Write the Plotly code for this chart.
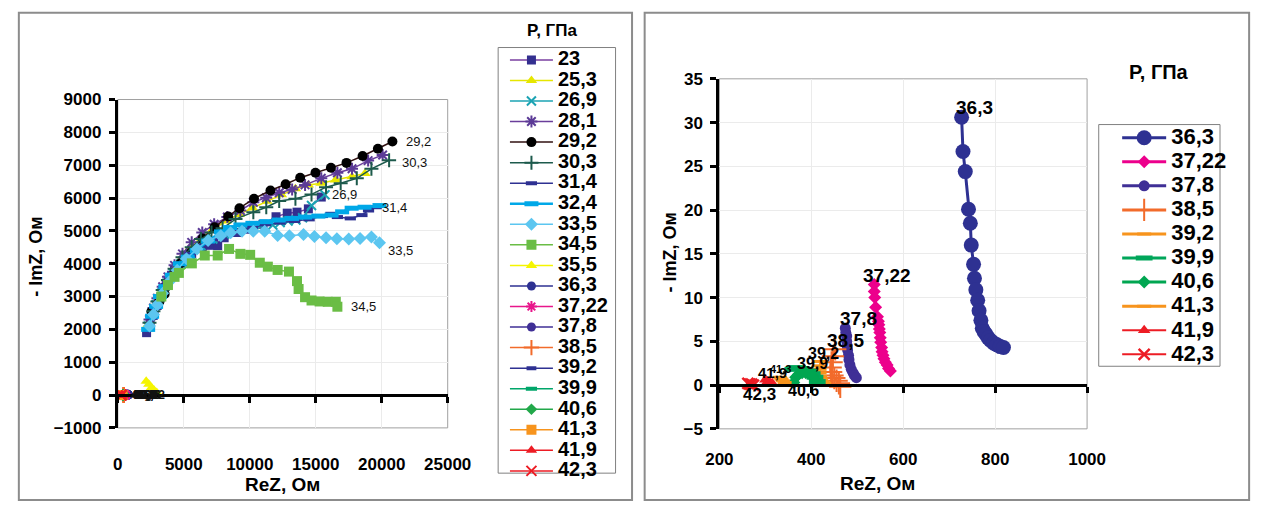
import plotly.graph_objects as go

W, H = 1277, 513
FONT = "Arial, 'Liberation Sans', sans-serif"

# ---------------- data: left chart (ReZ, Ом ; -ImZ, Ом) ----------------
p23_x = [2180, 2450, 2750, 3050, 3400, 3800, 4300, 4900, 5600, 6400, 7000, 7570, 8060, 9000, 10000, 11000, 11990, 12840, 13580, 14440, 15420]
p23_y = [1900, 2250, 2600, 2900, 3200, 3500, 3800, 4050, 4300, 4480, 4560, 4550, 4790, 4950, 5050, 5200, 5430, 5540, 5570, 5670, 6030]
p25_3_x = [2300, 2600, 2900, 3300, 3700, 4200, 4800, 5500, 6300, 7200, 8200, 9200, 10200, 11300, 12400, 13460, 14440, 15420, 16500, 17750, 18730]
p25_3_y = [2150, 2500, 2800, 3150, 3450, 3800, 4150, 4500, 4800, 5050, 5300, 5500, 5700, 5900, 6100, 6280, 6400, 6450, 6550, 6650, 6750]
p26_9_x = [2300, 2600, 2900, 3300, 3700, 4200, 4800, 5500, 6300, 7200, 8100, 9000, 9900, 10800, 11740, 12300, 12900, 13500, 14000, 14680, 15700]
p26_9_y = [2100, 2450, 2750, 3100, 3400, 3700, 4000, 4300, 4550, 4750, 4900, 5000, 5080, 5150, 5180, 5250, 5300, 5330, 5400, 5770, 6100]
p28_1_x = [2400, 2700, 3000, 3400, 3800, 4300, 4900, 5600, 6400, 7300, 8300, 9290, 10270, 11250, 12230, 13210, 14190, 15420, 16640, 17750, 18970, 20070]
p28_1_y = [2300, 2650, 2950, 3300, 3600, 3950, 4300, 4650, 4950, 5200, 5420, 5620, 5870, 6010, 6160, 6260, 6400, 6600, 6770, 6890, 7140, 7310]
p29_2_x = [2550, 3150, 3550, 4140, 4750, 5560, 6420, 7330, 8360, 9220, 10320, 11570, 12720, 13820, 14980, 16150, 17330, 18550, 19710, 20810]
p29_2_y = [2540, 2840, 3080, 3650, 4010, 4350, 4770, 5110, 5440, 5690, 5980, 6230, 6420, 6620, 6770, 6920, 7070, 7280, 7500, 7720]
p30_3_x = [2400, 2700, 3000, 3400, 3800, 4300, 4900, 5600, 6300, 7100, 7940, 8920, 10270, 11250, 12230, 13460, 14680, 15780, 16890, 18110, 19220, 20560]
p30_3_y = [2200, 2550, 2850, 3200, 3500, 3850, 4200, 4500, 4750, 4950, 5080, 5360, 5570, 5720, 5910, 5980, 6110, 6330, 6450, 6600, 6890, 7150]
p31_4_x = [2300, 2600, 2900, 3300, 3700, 4200, 4800, 5500, 6300, 7200, 8200, 9200, 10200, 11200, 12300, 13400, 14500, 15500, 16150, 16640, 17620, 18500, 19000, 19580]
p31_4_y = [2000, 2350, 2650, 3000, 3350, 3700, 4000, 4300, 4550, 4750, 4900, 5000, 5100, 5200, 5250, 5300, 5350, 5450, 5520, 5420, 5380, 5480, 5620, 5720]
p32_4_x = [2300, 2600, 2900, 3200, 3600, 4100, 4700, 5300, 5980, 6840, 7820, 8500, 9290, 10200, 11250, 12200, 13200, 14190, 15200, 16200, 17000, 17720, 18700, 19830]
p32_4_y = [2000, 2400, 2700, 3000, 3300, 3650, 4000, 4200, 4400, 4690, 4970, 5100, 5180, 5230, 5280, 5330, 5380, 5420, 5450, 5480, 5580, 5690, 5720, 5770]
p33_5_x = [2400, 2700, 3000, 3400, 3900, 4500, 5200, 6000, 6840, 7800, 8550, 9410, 10270, 11130, 12110, 13000, 14070, 14900, 15780, 16600, 17500, 18360, 19220, 19830]
p33_5_y = [2100, 2450, 2750, 3100, 3450, 3800, 4150, 4450, 4710, 4850, 4940, 4990, 4990, 4990, 4860, 4850, 4890, 4830, 4790, 4760, 4750, 4770, 4810, 4640]
p34_5_x = [3300, 3800, 4300, 4630, 5610, 6590, 7570, 8430, 9290, 10030, 10760, 11370, 12110, 12970, 13580, 13700, 14190, 14680, 15290, 15910, 16520, 16640]
p34_5_y = [3000, 3350, 3600, 3720, 4010, 4250, 4250, 4450, 4300, 4270, 4030, 3910, 3810, 3760, 3470, 3230, 2980, 2880, 2850, 2840, 2840, 2690]
p35_5_x = [2150, 2350, 2550, 2750, 2950]
p35_5_y = [420, 330, 230, 150, 80]

# ---------------- data: right chart (high pressures) ----------------
p36_3_x = [727, 730, 735, 742, 746, 748, 753, 755, 758, 762, 765, 769, 772, 776, 780, 785, 790, 797, 804, 811, 818]
p36_3_y = [30.6, 26.7, 24.4, 20.1, 18.5, 16.0, 13.8, 12.2, 10.9, 9.7, 8.5, 7.4, 6.5, 6.1, 5.8, 5.4, 5.1, 4.8, 4.6, 4.4, 4.3]
p37_22_x = [537, 537, 538, 540, 544, 546, 547, 548, 549, 550, 551, 553, 554, 556, 558, 561, 565, 568, 572]
p37_22_y = [11.5, 10.7, 10.0, 8.9, 7.8, 7.3, 6.9, 6.4, 6.0, 5.4, 4.9, 4.3, 3.8, 3.4, 3.0, 2.6, 2.3, 1.9, 1.6]
p37_8_x = [474, 475, 477, 477, 478, 479, 481, 482, 484, 487, 491, 494, 498]
p37_8_y = [6.5, 6.0, 5.6, 5.0, 4.5, 4.0, 3.4, 2.9, 2.3, 1.8, 1.4, 1.1, 0.85]
p38_5_x = [452, 447, 444, 442, 443, 446, 450, 455, 460, 463]
p38_5_y = [4.1, 3.3, 2.6, 2.0, 1.5, 1.1, 0.8, 0.5, 0.2, -0.2]
p39_2_x = [421, 419, 418, 418, 419, 421, 424, 428]
p39_2_y = [2.7, 2.2, 1.8, 1.4, 1.0, 0.7, 0.4, 0.2]
p39_9_x = [360, 365, 370, 378, 386, 394, 402, 408, 413]
p39_9_y = [1.8, 1.9, 2.0, 1.9, 1.8, 1.6, 1.3, 0.9, 0.4]
p40_6_x = [362, 366, 372, 380, 388, 396, 404, 410]
p40_6_y = [0.3, 0.9, 1.2, 1.4, 1.4, 1.3, 1.0, 0.5]
p41_3_x = [332, 335, 338, 342]
p41_3_y = [0.9, 0.7, 0.5, 0.3]
p41_9_x = [300, 305, 310, 315]
p41_9_y = [0.6, 0.4, 0.3, 0.2]
p42_3_x = [262, 266, 270, 274]
p42_3_y = [0.2, 0.1, 0.1, 0.0]

left_names = ["23", "25,3", "26,9", "28,1", "29,2", "30,3", "31,4", "32,4", "33,5", "34,5", "35,5",
              "36,3", "37,22", "37,8", "38,5", "39,2", "39,9", "40,6", "41,3", "41,9", "42,3"]
right_names = ["36,3", "37,22", "37,8", "38,5", "39,2", "39,9", "40,6", "41,3", "41,9", "42,3"]

data = {
    "23": (p23_x, p23_y), "25,3": (p25_3_x, p25_3_y), "26,9": (p26_9_x, p26_9_y),
    "28,1": (p28_1_x, p28_1_y), "29,2": (p29_2_x, p29_2_y), "30,3": (p30_3_x, p30_3_y),
    "31,4": (p31_4_x, p31_4_y), "32,4": (p32_4_x, p32_4_y), "33,5": (p33_5_x, p33_5_y),
    "34,5": (p34_5_x, p34_5_y), "35,5": (p35_5_x, p35_5_y),
    "36,3": (p36_3_x, p36_3_y), "37,22": (p37_22_x, p37_22_y), "37,8": (p37_8_x, p37_8_y),
    "38,5": (p38_5_x, p38_5_y), "39,2": (p39_2_x, p39_2_y), "39,9": (p39_9_x, p39_9_y),
    "40,6": (p40_6_x, p40_6_y), "41,3": (p41_3_x, p41_3_y), "41,9": (p41_9_x, p41_9_y),
    "42,3": (p42_3_x, p42_3_y),
}

# styles: (symbol, size, marker colour, line colour, marker line width, trace line width)
left_style = {
    "23": ("square", 9, "#332f8f", "#7a3fa0", 0, 1.5),
    "25,3": ("triangle-up", 10, "#e6e600", "#e6e600", 0, 1.5),
    "26,9": ("x-thin-open", 9, "#1ba3b3", "#1ba3b3", 2, 1.5),
    "28,1": ("asterisk-open", 10, "#5b3a96", "#6a3d9a", 2, 1.5),
    "29,2": ("circle", 10, "#000000", "#301010", 0, 1.5),
    "30,3": ("cross-thin-open", 10, "#1d5a4c", "#1d5a4c", 2, 1.5),
    "31,4": ("line-ew-open", 8, "#2e3192", "#2e3192", 4, 1.5),
    "32,4": ("line-ew-open", 10, "#00a8e8", "#00a8e8", 5, 2.5),
    "33,5": ("diamond", 10, "#5cc6f0", "#5cc6f0", 0, 1.5),
    "34,5": ("square", 10, "#6abd45", "#6abd45", 0, 1.5),
    "35,5": ("triangle-up", 10, "#f5f500", "#f5f500", 0, 1.5),
    "36,3": ("circle", 9, "#2e3192", "#2e3192", 0, 1.5),
    "37,22": ("asterisk-open", 9, "#e8168b", "#e8168b", 2, 1.5),
    "37,8": ("circle", 9, "#3f2f96", "#3f2f96", 0, 1.5),
    "38,5": ("cross-thin-open", 11, "#f26b2b", "#f26b2b", 2, 1.5),
    "39,2": ("line-ew-open", 7, "#2e3192", "#2e3192", 4, 1.5),
    "39,9": ("line-ew-open", 8, "#00a66a", "#00a66a", 4, 1.5),
    "40,6": ("diamond", 9, "#22a84a", "#22a84a", 0, 1.5),
    "41,3": ("square", 10, "#f7941d", "#f7941d", 0, 1.5),
    "41,9": ("triangle-up", 10, "#ed1c24", "#ed1c24", 0, 1.5),
    "42,3": ("x-thin-open", 10, "#ed1c24", "#ed1c24", 2, 1.5),
}
right_style = {
    "36,3": ("circle", 15, "#2e3192", "#2e3192", 0, 3),
    "37,22": ("diamond", 10, "#ec008c", "#ec008c", 0, 3),
    "37,8": ("circle", 11, "#3f2f96", "#3f2f96", 0, 3),
    "38,5": ("cross-thin-open", 16, "#f26b2b", "#f26b2b", 2, 3),
    "39,2": ("line-ew-open", 10, "#f7941d", "#f7941d", 3, 3),
    "39,9": ("line-ew-open", 12, "#00a65a", "#00a65a", 5, 3),
    "40,6": ("diamond", 10, "#00a651", "#00a651", 0, 3),
    "41,3": ("line-ew-open", 10, "#f7941d", "#f7941d", 3, 3),
    "41,9": ("triangle-up", 11, "#ed1c24", "#ed1c24", 0, 2),
    "42,3": ("x-thin-open", 11, "#ed1c24", "#ed1c24", 2.5, 2),
}

fig = go.Figure()


def add(name, style, xa, ya, legend, txtsize):
    sym, size, mc, lc, mlw, lw = style
    x, y = data[name]
    marker = dict(symbol=sym, size=size, color=mc)
    if mlw:
        marker["line"] = dict(width=mlw, color=mc)
    fig.add_trace(go.Scatter(
        x=x, y=y, mode="lines+markers", xaxis=xa, yaxis=ya, legend=legend,
        name='<span style="font-size:%dpx">%s</span>' % (txtsize, name),
        line=dict(color=lc, width=lw), marker=marker, cliponaxis=False))


for n in left_names:
    add(n, left_style[n], "x", "y", "legend", 20)
for n in right_names:
    add(n, right_style[n], "x2", "y2", "legend2", 22)

# ---------------- layout geometry ----------------
def px(v):
    return v / W


def py(v):
    return 1 - v / H


lx_dom = [px(107), px(447)]
ly_dom = [py(435), py(94)]
rx_dom = [px(727), px(1106)]
ry_dom = [py(436), py(72.5)]
ly_rng = [-1000, 9000]
ry_rng = [-5, 35]
l_zero = ly_dom[0] + (0 - ly_rng[0]) / (ly_rng[1] - ly_rng[0]) * (ly_dom[1] - ly_dom[0])
r_zero = ry_dom[0] + (0 - ry_rng[0]) / (ry_rng[1] - ry_rng[0]) * (ry_dom[1] - ry_dom[0])

tickfont = dict(family=FONT, size=17, color="black", weight="bold")
common_x = dict(showline=True, linewidth=3, linecolor="black", ticks="outside", ticklen=6,
                tickwidth=3, tickcolor="black", showgrid=True, gridcolor="#ebebeb",
                gridwidth=1, zeroline=False, tickfont=tickfont, anchor="free", tickformat="d")
common_y = dict(showline=True, linewidth=3, linecolor="black", ticks="outside", ticklen=6,
                tickwidth=3, tickcolor="black", showgrid=True, gridcolor="#ebebeb",
                gridwidth=1, zeroline=False, tickfont=tickfont, ticklabelstandoff=4,
                tickformat="d")

fig.update_layout(
    width=W, height=H, margin=dict(l=0, r=0, t=0, b=0, pad=0),
    paper_bgcolor="white", plot_bgcolor="white", font=dict(family=FONT, color="black"),
    xaxis=dict(domain=lx_dom, range=[0, 25000], dtick=5000, position=l_zero,
               ticklabelstandoff=47, **common_x),
    yaxis=dict(domain=ly_dom, range=ly_rng, dtick=1000, anchor="x", **common_y),
    xaxis2=dict(domain=rx_dom, range=[200, 1000], dtick=200, position=r_zero,
                ticklabelstandoff=52, **common_x),
    yaxis2=dict(domain=ry_dom, range=ry_rng, dtick=5, anchor="x2", **common_y),
    legend=dict(x=px(506), y=py(37), xanchor="left", yanchor="top", bgcolor="rgba(0,0,0,0)",
                borderwidth=0, itemwidth=43, tracegroupgap=0,
                font=dict(family=FONT, size=13.5, color="black", weight="bold")),
    legend2=dict(x=px(1137), y=py(116), xanchor="left", yanchor="top", bgcolor="rgba(0,0,0,0)",
                 borderwidth=0, itemwidth=44, tracegroupgap=0,
                 font=dict(family=FONT, size=16.2, color="black", weight="bold")),
)

shapes = [
    # panel frames
    dict(type="rect", xref="paper", yref="paper", x0=px(5), x1=px(637), y0=py(510), y1=py(4),
         line=dict(color="#8c8c8c", width=2)),
    dict(type="rect", xref="paper", yref="paper", x0=px(650), x1=px(1273), y0=py(510), y1=py(4),
         line=dict(color="#8c8c8c", width=2)),
    # plot area frames
    dict(type="rect", xref="x domain", yref="y domain", x0=0, x1=1, y0=0, y1=1,
         line=dict(color="#a0a0a0", width=1), layer="below"),
    dict(type="rect", xref="x2 domain", yref="y2 domain", x0=0, x1=1, y0=0, y1=1,
         line=dict(color="#a0a0a0", width=1), layer="below"),
    # legend boxes
    dict(type="rect", xref="paper", yref="paper", x0=px(499), x1=px(620), y0=py(482), y1=py(40),
         line=dict(color="#808080", width=1)),
    dict(type="rect", xref="paper", yref="paper", x0=px(1118), x1=px(1243), y0=py(371), y1=py(120),
         line=dict(color="#808080", width=1)),
]
fig.update_layout(shapes=shapes)

ann = []
bold = dict(family=FONT, color="black", weight="bold")
C = dict(xanchor="center", yanchor="middle", showarrow=False, xref="paper", yref="paper")
ann += [
    dict(text="ReZ, Ом", x=px(277), y=py(494), font=dict(size=19, **bold), **C),
    dict(text="ReZ, Ом", x=px(890), y=py(493), font=dict(size=19, **bold), **C),
    dict(text="- ImZ, Ом", x=px(23), y=py(257), textangle=-90, font=dict(size=18, **bold), **C),
    dict(text="- ImZ, Ом", x=px(676), y=py(253), textangle=-90, font=dict(size=18, **bold), **C),
    dict(text="P, ГПа", x=px(555), y=py(22), font=dict(size=17, **bold), **C),
    dict(text="P, ГПа", x=px(1180), y=py(65), font=dict(size=20, **bold), **C),
]

# data labels: left chart (last points, to the right)
left_labels = [("29,2", -1, 12, 0), ("30,3", -1, 11, -2), ("26,9", -1, 5, 0),
               ("31,4", -1, 4, 0), ("33,5", -1, 7, -8), ("34,5", -1, 12, 0)]
for name, idx, dx, dy in left_labels:
    x, y = data[name]
    ann.append(dict(text=name, x=x[idx], y=y[idx], xref="x", yref="y", showarrow=False,
                    xanchor="left", yanchor="middle", xshift=dx, yshift=dy,
                    font=dict(family=FONT, size=13, color="#111111")))
# jumbled labels near the origin of the left chart
for name in ["36,3", "37,22", "37,8", "38,5", "39,2", "39,9", "40,6", "41,3", "41,9", "42,3"]:
    x, y = data[name]
    ann.append(dict(text=name, x=x[0], y=0, xref="x", yref="y", showarrow=False,
                    xanchor="left", yanchor="middle", xshift=8,
                    font=dict(family=FONT, size=12, color="#111111", weight="bold")))
ann.append(dict(text="35,5", x=p35_5_x[-1], y=0, xref="x", yref="y", showarrow=False,
                xanchor="right", yanchor="middle", xshift=6,
                font=dict(family=FONT, size=12, color="#111111", weight="bold")))

# data labels: right chart (first points)
right_labels = [("36,3", 13, 10, 19), ("37,22", 13, 9, 19), ("37,8", 13, 10, 19),
                ("38,5", 10, 9, 19), ("39,2", 3, 8, 16), ("39,9", 20, 6, 16),
                ("40,6", 10, -8, 16), ("41,3", 0, 8, 11), ("41,9", 7, 7, 15), ("42,3", 12, -11, 17)]
for name, dx, dy, fs in right_labels:
    x, y = data[name]
    ann.append(dict(text=name, x=x[0], y=y[0], xref="x2", yref="y2", showarrow=False,
                    xanchor="center", yanchor="middle", xshift=dx, yshift=dy,
                    font=dict(size=fs, **bold)))

fig.update_layout(annotations=ann)
fig.write_html("out.html")
